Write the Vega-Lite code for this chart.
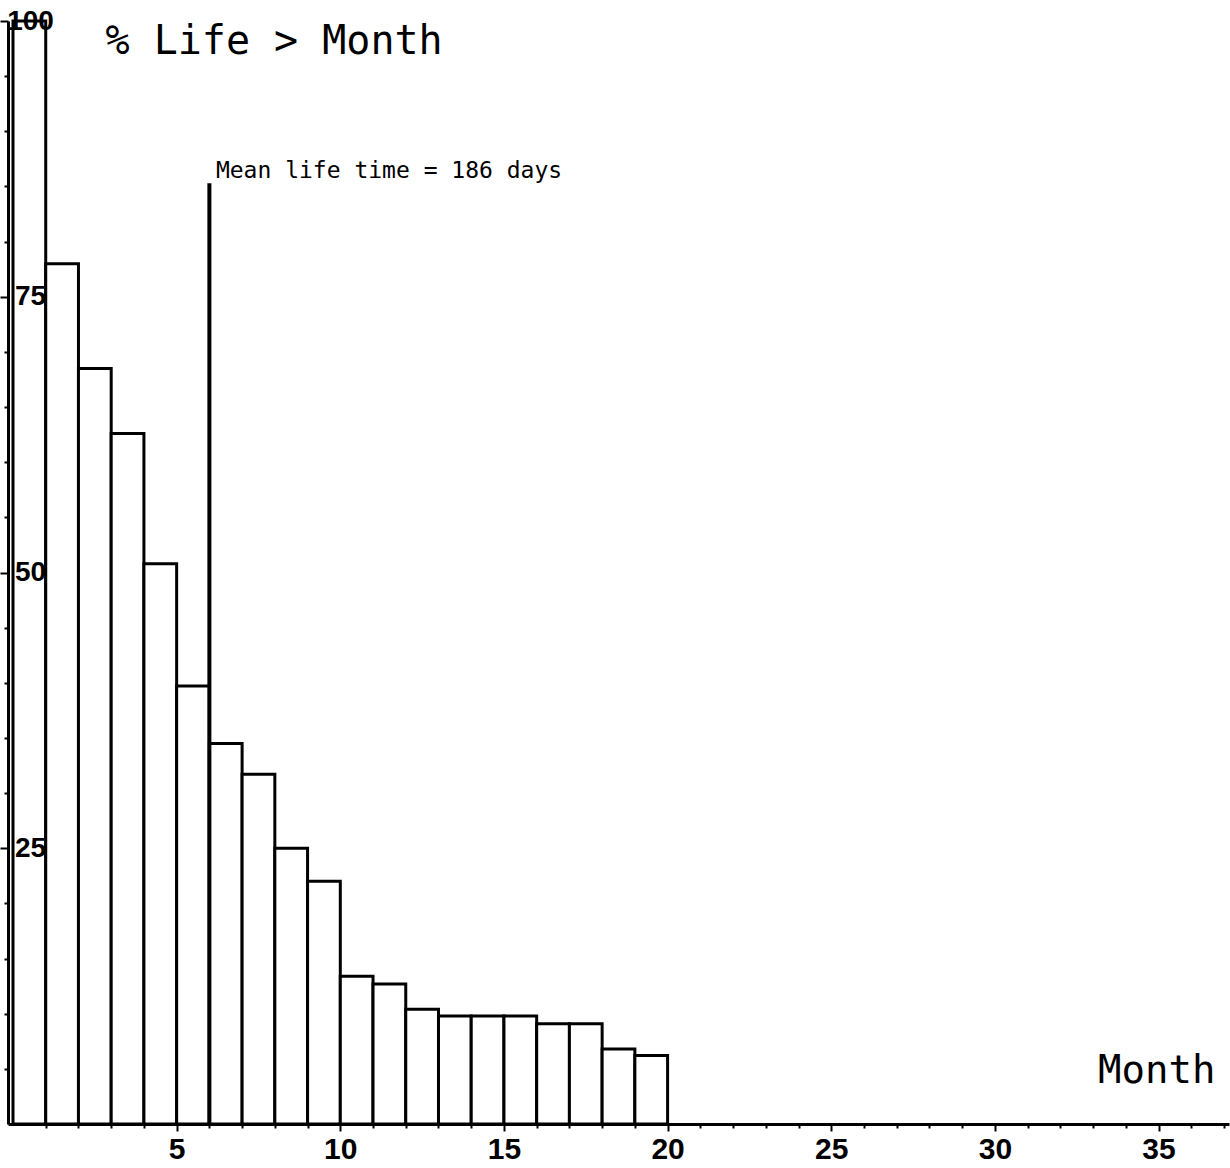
{
  "$schema": "https://vega.github.io/schema/vega-lite/v6.json",
  "width": 1221,
  "height": 1103,
  "autosize": {"type": "none"},
  "padding": {"left": 8, "top": 21, "right": 1, "bottom": 44},
  "background": "white",
  "config": {
    "view": {"stroke": null},
    "axis": {"grid": false, "domainColor": "black", "tickColor": "black", "labelColor": "black", "titleColor": "black"}
  },
  "resolve": {"axis": {"x": "independent", "y": "independent"}},
  "data": {
    "values": [
      {"start": 0, "end": 1, "pct": 100},
      {"start": 1, "end": 2, "pct": 78.0},
      {"start": 2, "end": 3, "pct": 68.5},
      {"start": 3, "end": 4, "pct": 62.6},
      {"start": 4, "end": 5, "pct": 50.8},
      {"start": 5, "end": 6, "pct": 39.7},
      {"start": 6, "end": 7, "pct": 34.5},
      {"start": 7, "end": 8, "pct": 31.7},
      {"start": 8, "end": 9, "pct": 25.0},
      {"start": 9, "end": 10, "pct": 22.0},
      {"start": 10, "end": 11, "pct": 13.4},
      {"start": 11, "end": 12, "pct": 12.7},
      {"start": 12, "end": 13, "pct": 10.4},
      {"start": 13, "end": 14, "pct": 9.8},
      {"start": 14, "end": 15, "pct": 9.8},
      {"start": 15, "end": 16, "pct": 9.8},
      {"start": 16, "end": 17, "pct": 9.1},
      {"start": 17, "end": 18, "pct": 9.1},
      {"start": 18, "end": 19, "pct": 6.8},
      {"start": 19, "end": 20, "pct": 6.2}
    ]
  },
  "layer": [
    {
      "mark": {"type": "bar", "orient": "vertical", "fill": "white", "stroke": "black", "strokeWidth": 3},
      "encoding": {
        "x": {
          "field": "start",
          "type": "quantitative",
          "scale": {"domain": [0, 37], "nice": false, "zero": false},
          "axis": {
            "orient": "bottom",
            "values": [5, 10, 15, 20, 25, 30, 35],
            "labelOverlap": false,
            "labelFlush": false,
            "tickSize": 7,
            "tickWidth": 2,
            "domainWidth": 3,
            "labelFont": "Liberation Sans Narrow, Liberation Sans",
            "labelFontSize": 30,
            "labelFontWeight": "bold",
            "labelPadding": 3,
            "title": "Month",
            "titleFont": "DejaVu Sans Mono",
            "titleFontSize": 39,
            "titleFontWeight": "normal",
            "titleX": 1207,
            "titleY": -42,
            "titleAlign": "right",
            "titleBaseline": "alphabetic",
            "zindex": 1
          }
        },
        "x2": {"field": "end"},
        "y": {
          "field": "pct",
          "type": "quantitative",
          "scale": {"domain": [0, 100], "nice": false},
          "axis": {
            "orient": "left",
            "values": [25, 50, 75, 100],
            "labelOverlap": false,
            "labelFlush": false,
            "tickSize": 8,
            "tickWidth": 2,
            "domainWidth": 3,
            "labelFont": "Liberation Sans Narrow, Liberation Sans",
            "labelFontSize": 28,
            "labelFontWeight": "bold",
            "labelPadding": -30,
            "labelAlign": "center",
            "labelBaseline": "middle",
            "title": "% Life > Month",
            "titleFont": "DejaVu Sans Mono",
            "titleFontSize": 40,
            "titleFontWeight": "normal",
            "titleAngle": 0,
            "titleX": 97,
            "titleY": 32,
            "titleAlign": "left",
            "titleBaseline": "alphabetic",
            "zindex": 1
          }
        }
      }
    },
    {
      "data": {"values": [{"mean_month": 6, "bottom": 0, "top": 85.3}]},
      "mark": {"type": "rule", "strokeWidth": 4, "color": "black"},
      "encoding": {
        "x": {
          "field": "mean_month",
          "type": "quantitative",
          "axis": {
            "orient": "bottom",
            "values": [1,2,3,4,6,7,8,9,11,12,13,14,16,17,18,19,21,22,23,24,26,27,28,29,31,32,33,34,36,37],
            "labels": false,
            "title": null,
            "tickSize": 4,
            "tickWidth": 2,
            "domain": false,
            "zindex": 1
          }
        },
        "y": {
          "field": "bottom",
          "type": "quantitative",
          "axis": {
            "orient": "left",
            "values": [5,10,15,20,30,35,40,45,55,60,65,70,80,85,90,95],
            "labels": false,
            "title": null,
            "tickSize": 4,
            "tickWidth": 2,
            "domain": false,
            "zindex": 1
          }
        },
        "y2": {"field": "top"}
      }
    },
    {
      "data": {"values": [{"mean_month": 6.2, "ypos": 85.8, "label": "Mean life time =  186 days"}]},
      "mark": {"type": "text", "font": "DejaVu Sans Mono", "fontSize": 23, "align": "left", "baseline": "alphabetic", "color": "black"},
      "encoding": {
        "x": {"field": "mean_month", "type": "quantitative", "axis": null},
        "y": {"field": "ypos", "type": "quantitative", "axis": null},
        "text": {"field": "label", "type": "nominal"}
      }
    }
  ]
}
